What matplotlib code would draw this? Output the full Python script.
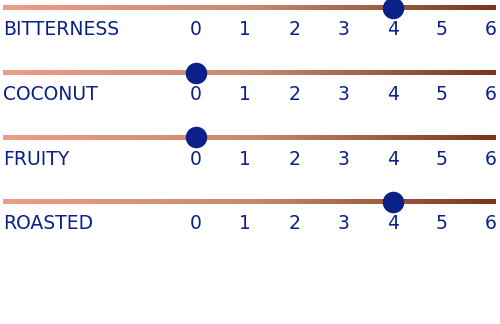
import numpy as np
import matplotlib.pyplot as plt
from matplotlib.colors import LinearSegmentedColormap

# flavour profile data
labels = ["BITTERNESS", "COCONUT", "FRUITY", "ROASTED"]
values = [4, 0, 0, 4]
ticks = [0, 1, 2, 3, 4, 5, 6]

navy = "#0b2188"
grad = LinearSegmentedColormap.from_list("bar", ["#eb9d8a", "#c98a6c", "#7a3420"])

fig = plt.figure(figsize=(5, 3.24), dpi=100)
ax = fig.add_axes([0, 0, 1, 1])
ax.set_xlim(-3.986, 6.183)
ax.set_ylim(4.886, -0.124)
ax.axis("off")

x0, x1 = -3.925, 6.1
g = np.linspace(0, 1, 256).reshape(1, -1)
for i, (lab, v) in enumerate(zip(labels, values)):
    ax.imshow(g, cmap=grad, extent=[x0, x1, i + 0.038, i - 0.038],
              aspect="auto", zorder=1)
    ax.scatter([v], [i], s=210, color=navy, zorder=3)
    ax.text(x0 + 0.01, i + 0.42, lab, color=navy, fontsize=13.5,
            family="DejaVu Sans", va="baseline", ha="left")
    for t in ticks:
        ax.text(t, i + 0.42, str(t), color=navy, fontsize=13.5,
                family="DejaVu Sans", va="baseline", ha="center")

fig.savefig("out.png", dpi=100)
